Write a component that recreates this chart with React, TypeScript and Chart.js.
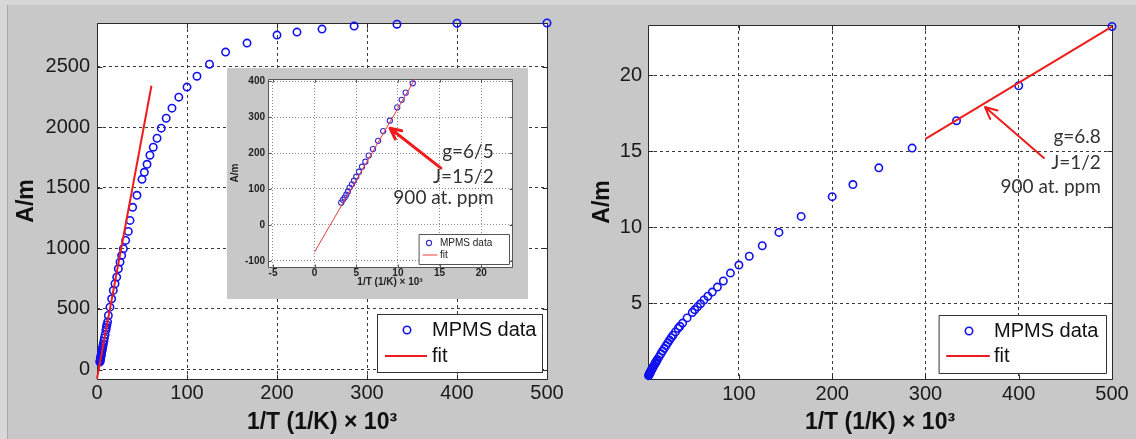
import React, { useEffect, useRef } from "react";
import { Chart, registerables } from "chart.js";

Chart.register(...registerables);

// Inverse temperature 1/T (1/K) x 10^3 for every measurement, 2 K ... 300 K
const invT = [
  500, 400, 333.3, 285.7, 250, 222.2, 200, 166.7, 142.9, 125,
  111.1, 100, 90.9, 83.3, 76.9, 71.4, 66.7, 62.5, 58.8, 55.6,
  52.6, 50, 44.4, 39.6, 36.7, 34.8, 31.9, 29.3, 27.4, 25.6,
  23.7, 21.9, 20, 18.1, 16.3, 14.4, 12.6, 11.78, 10.93, 10.45,
  9.92, 9.03, 8.23, 7.62, 7.01, 6.49, 6.09, 5.69, 5.33, 5.0,
  4.72, 4.48, 4.2, 4.0, 3.8, 3.6, 3.39, 3.19,
];

// Magnetisation, left panel (A/m)
const magLeft = [
  2860, 2858, 2850, 2835, 2810, 2785, 2760, 2694, 2620, 2520,
  2421, 2331, 2248, 2157, 2074, 1992, 1909, 1835, 1769, 1694,
  1628, 1570, 1438, 1339, 1231, 1140, 1066, 997, 942, 887,
  832, 763, 708, 653, 584, 515, 446, 394, 368, 348,
  327, 290, 261, 234, 211, 193, 176, 162, 148, 134,
  123, 113, 104, 93, 84, 76, 70, 62,
];

// Magnetisation, right panel (A/m)
const magRight = [
  23.2, 19.3, 17.0, 15.2, 13.9, 12.8, 12.0, 10.7, 9.65, 8.77,
  8.08, 7.5, 6.97, 6.45, 6.05, 5.72, 5.45, 5.2, 4.95, 4.75,
  4.56, 4.38, 4.02, 3.68, 3.47, 3.33, 3.1, 2.88, 2.72, 2.56,
  2.38, 2.2, 2.02, 1.84, 1.66, 1.46, 1.28, 1.19, 1.1, 1.05,
  1.0, 0.9, 0.82, 0.76, 0.69, 0.63, 0.58, 0.53, 0.49, 0.45,
  0.42, 0.39, 0.36, 0.33, 0.3, 0.27, 0.25, 0.22,
];

// Linear fits (end points)
const fitLeftX = [0, 60.5];
const fitLeftY = [-75, 2342];
const fitRightX = [300, 500];
const fitRightY = [15.8, 23.2];

// Inset shows the high-temperature part only
const insetLimit = 12.5;

// Tick values
const leftXTicks = [0, 100, 200, 300, 400, 500];
const leftYTicks = [0, 500, 1000, 1500, 2000, 2500];
const insetXTicks = [-5, 0, 5, 10, 15, 20];
const insetYTicks = [-100, 0, 100, 200, 300, 400];
const rightXTicks = [100, 200, 300, 400, 500];
const rightYTicks = [5, 10, 15, 20];

// Text
const legendLabels = ["MPMS data", "fit"];
const xTitle = "1/T (1/K) \u00d7 10\u00b3";
const yTitle = "A/m";
const insetNote = ["g=6/5", "J=15/2", "900 at. ppm"];
const rightNote = ["g=6.8", "J=1/2", "900 at. ppm"];

const BLUE = "#1212ee";
const RED = "#ee1c1c";
const FIG_BG = "#c8c8c8";
const SANS = "'Liberation Sans', Arial, Helvetica, sans-serif";
const NOTE_FONT = "19px Lato, 'Open Sans', sans-serif";

type Pt = { x: number; y: number };
const zip = (xs: number[], ys: number[]): Pt[] => xs.map((x, i) => ({ x, y: ys[i] }));

const ticksOf = (values: number[]) => (scale: any) => {
  scale.ticks = values.map((value) => ({ value }));
};

const fixedSize = (prop: "width" | "height", size: number) => (scale: any) => {
  scale[prop] = size;
  scale.paddingLeft = 0;
  scale.paddingRight = 0;
  scale.paddingTop = 0;
  scale.paddingBottom = 0;
};

function decorPlugin(spec: any) {
  return {
    id: "decor",
    beforeDraw(chart: any) {
      const { ctx, chartArea: a } = chart;
      ctx.save();
      if (spec.figBg) {
        ctx.fillStyle = spec.figBg;
        ctx.fillRect(0, 0, chart.width, chart.height);
      }
      ctx.fillStyle = "#ffffff";
      ctx.fillRect(a.left, a.top, a.right - a.left, a.bottom - a.top);
      ctx.restore();
    },
    beforeDatasetsDraw(chart: any) {
      const { ctx, chartArea: a, scales } = chart;
      const L = Math.round(a.left) + 0.5;
      const R = Math.round(a.right) + 0.5;
      const T = Math.round(a.top) + 0.5;
      const B = Math.round(a.bottom) + 0.5;
      const tl = spec.tickLen;
      ctx.save();
      ctx.setLineDash([]);
      ctx.strokeStyle = spec.boxColor;
      ctx.lineWidth = 1;
      ctx.beginPath();
      ctx.rect(L, T, R - L, B - T);
      for (const t of scales.x.ticks) {
        const p = Math.round(scales.x.getPixelForValue(t.value)) + 0.5;
        ctx.moveTo(p, B);
        ctx.lineTo(p, B - tl);
        ctx.moveTo(p, T);
        ctx.lineTo(p, T + tl);
      }
      for (const t of scales.y.ticks) {
        const p = Math.round(scales.y.getPixelForValue(t.value)) + 0.5;
        ctx.moveTo(L, p);
        ctx.lineTo(L + tl, p);
        ctx.moveTo(R, p);
        ctx.lineTo(R - tl, p);
      }
      ctx.stroke();
      ctx.restore();
    },
    afterDatasetsDraw(chart: any) {
      const { ctx, scales } = chart;
      ctx.save();
      ctx.setLineDash([]);

      const n = spec.note;
      if (n) {
        const sx = scales.x;
        const sy = scales.y;
        const tip = [sx.getPixelForValue(n.tip[0]), sy.getPixelForValue(n.tip[1])];
        const tail = [sx.getPixelForValue(n.tail[0]), sy.getPixelForValue(n.tail[1])];
        ctx.strokeStyle = n.arrowColor;
        ctx.lineWidth = n.arrowW;
        ctx.lineCap = "round";
        ctx.lineJoin = "round";
        ctx.beginPath();
        ctx.moveTo(tail[0], tail[1]);
        ctx.lineTo(tip[0], tip[1]);
        const ang = Math.atan2(tip[1] - tail[1], tip[0] - tail[0]);
        for (const s of [-1, 1]) {
          const a2 = ang + Math.PI + s * 0.45;
          ctx.moveTo(tip[0], tip[1]);
          ctx.lineTo(tip[0] + n.head * Math.cos(a2), tip[1] + n.head * Math.sin(a2));
        }
        ctx.stroke();
        ctx.font = n.font;
        ctx.fillStyle = n.color;
        ctx.textAlign = "right";
        ctx.textBaseline = "middle";
        n.lines.forEach((s: string, i: number) =>
          ctx.fillText(s, sx.getPixelForValue(n.textX), sy.getPixelForValue(n.textY[i]))
        );
      }

      const lg = spec.legend;
      if (lg) {
        const [x0, y0, x1, y1] = lg.box;
        ctx.fillStyle = "#ffffff";
        ctx.fillRect(x0, y0, x1 - x0, y1 - y0);
        ctx.strokeStyle = lg.border;
        ctx.lineWidth = 1;
        ctx.strokeRect(x0 + 0.5, y0 + 0.5, x1 - x0, y1 - y0);
        ctx.beginPath();
        ctx.arc(lg.markerX, lg.rows[0], spec.marker.r, 0, Math.PI * 2);
        ctx.strokeStyle = spec.marker.color;
        ctx.lineWidth = spec.marker.w;
        ctx.stroke();
        ctx.beginPath();
        ctx.moveTo(lg.lineX[0], lg.rows[1]);
        ctx.lineTo(lg.lineX[1], lg.rows[1]);
        ctx.strokeStyle = spec.fitStyle.color;
        ctx.lineWidth = spec.fitStyle.w;
        ctx.stroke();
        ctx.font = lg.font;
        ctx.fillStyle = lg.color;
        ctx.textAlign = "left";
        ctx.textBaseline = "middle";
        legendLabels.forEach((s, i) => ctx.fillText(s, lg.textX, lg.rows[i]));
      }
      ctx.restore();
    },
  };
}

function makeConfig(spec: any): any {
  return {
    type: "scatter",
    data: {
      datasets: [
        {
          label: legendLabels[1],
          data: spec.fit,
          showLine: true,
          pointRadius: 0,
          borderColor: spec.fitStyle.color,
          borderWidth: spec.fitStyle.w,
          order: 0,
          clip: spec.fitClip,
        },
        {
          label: legendLabels[0],
          data: spec.points,
          pointRadius: spec.marker.r,
          pointBorderWidth: spec.marker.w,
          borderColor: spec.marker.color,
          pointBorderColor: spec.marker.color,
          backgroundColor: "rgba(0,0,0,0)",
          pointBackgroundColor: "rgba(0,0,0,0)",
          order: 1,
          clip: false,
        },
      ],
    },
    options: {
      responsive: false,
      animation: false,
      events: [],
      layout: {
        autoPadding: false,
        padding: { left: 0, top: spec.padTop, right: spec.padRight, bottom: 0 },
      },
      plugins: { legend: { display: false }, tooltip: { enabled: false } },
      scales: {
        x: {
          type: "linear",
          position: "bottom",
          min: spec.xMin,
          max: spec.xMax,
          afterBuildTicks: ticksOf(spec.xTicks),
          afterFit: fixedSize("height", spec.xAxisH),
          grid: { color: spec.gridColor, lineWidth: 1, drawTicks: false },
          border: { display: false, dash: spec.gridDash },
          ticks: {
            autoSkip: false,
            maxRotation: 0,
            padding: spec.tickPadX,
            color: spec.tickColor,
            font: spec.tickFont,
            callback: (v: number) => String(v),
          },
          title: {
            display: true,
            text: xTitle,
            color: spec.titleColor,
            font: spec.titleFont,
            padding: { top: 0, bottom: spec.xTitlePad },
          },
        },
        y: {
          type: "linear",
          position: "left",
          min: spec.yMin,
          max: spec.yMax,
          afterBuildTicks: ticksOf(spec.yTicks),
          afterFit: fixedSize("width", spec.yAxisW),
          grid: { color: spec.gridColor, lineWidth: 1, drawTicks: false },
          border: { display: false, dash: spec.gridDash },
          ticks: {
            autoSkip: false,
            padding: spec.tickPadY,
            color: spec.tickColor,
            font: spec.tickFont,
            callback: (v: number) => String(v),
          },
          title: {
            display: true,
            text: yTitle,
            color: spec.titleColor,
            font: spec.titleFont,
            padding: { top: spec.yTitlePad, bottom: 0 },
          },
        },
      },
    },
    plugins: [decorPlugin(spec)],
  };
}

const bigPanel = {
  tickFont: { family: SANS, size: 20, weight: "normal" },
  tickColor: "#1a1a1a",
  titleFont: { family: SANS, size: 23, weight: "bold" },
  titleColor: "#111111",
  tickPadX: 2,
  tickPadY: 7,
  xTitlePad: 3,
  gridColor: "#3a3a3a",
  gridDash: [3, 3],
  boxColor: "#2a2a2a",
  tickLen: 5,
  xAxisH: 60,
  marker: { r: 3.7, w: 1.6, color: BLUE },
  fitStyle: { color: RED, w: 2 },
  fitClip: false,
};

const leftSpec = {
  ...bigPanel,
  xMin: 0,
  xMax: 500,
  yMin: -78,
  yMax: 2860,
  xTicks: leftXTicks,
  yTicks: leftYTicks,
  padTop: 23,
  padRight: 33,
  yAxisW: 97,
  yTitlePad: 13,
  points: zip(invT, magLeft),
  fit: zip(fitLeftX, fitLeftY),
  legend: {
    box: [377, 314, 542, 372],
    markerX: 407,
    rows: [330, 356],
    lineX: [385, 427],
    textX: 432,
    font: `20px ${SANS}`,
    color: "#111111",
    border: "#333333",
  },
};

const rightSpec = {
  ...bigPanel,
  xMin: 2.5,
  xMax: 500,
  yMin: 0,
  yMax: 23.3,
  xTicks: rightXTicks,
  yTicks: rightYTicks,
  tickPadX: 3,
  tickPadY: 6,
  padTop: 25,
  padRight: 24,
  yAxisW: 88,
  yTitlePad: 29,
  points: zip(invT, magRight),
  fit: zip(fitRightX, fitRightY),
  legend: {
    box: [379, 315, 546, 373],
    markerX: 409,
    rows: [331, 356],
    lineX: [387, 429],
    textX: 434,
    font: `20px ${SANS}`,
    color: "#111111",
    border: "#333333",
  },
  note: {
    tip: [363.8, 17.9],
    tail: [427, 14.55],
    textX: 488,
    textY: [15.93, 14.22, 12.64],
    lines: rightNote,
    font: NOTE_FONT,
    color: "#333333",
    arrowColor: RED,
    arrowW: 2,
    head: 13,
  },
};

const insetIdx = invT.map((x, i) => i).filter((i) => invT[i] < insetLimit);

const insetSpec = {
  figBg: FIG_BG,
  xMin: -5.6,
  xMax: 23.7,
  yMin: -117,
  yMax: 406,
  xTicks: insetXTicks,
  yTicks: insetYTicks,
  tickFont: { family: SANS, size: 10, weight: "bold" },
  tickColor: "#222222",
  titleFont: { family: SANS, size: 10, weight: "bold" },
  titleColor: "#222222",
  tickPadX: 0,
  tickPadY: 3,
  xTitlePad: 11,
  yTitlePad: 2,
  gridColor: "#8a8a8a",
  gridDash: [1, 2],
  boxColor: "#555555",
  tickLen: 3,
  padTop: 11,
  padRight: 16,
  yAxisW: 41,
  xAxisH: 32,
  marker: { r: 2.6, w: 1.1, color: "#3a2ed0" },
  fitStyle: { color: "#e83a3a", w: 1 },
  fitClip: 0,
  points: insetIdx.map((i) => ({ x: invT[i], y: magLeft[i] })),
  fit: zip(fitLeftX, fitLeftY),
  legend: {
    box: [192, 166, 282, 196],
    markerX: 202,
    rows: [175, 187],
    lineX: [196, 210],
    textX: 213,
    font: `10px ${SANS}`,
    color: "#222222",
    border: "#555555",
  },
  note: {
    tip: [9.05, 269],
    tail: [15.17, 158],
    textX: 21.5,
    textY: [203, 133, 75],
    lines: insetNote,
    font: NOTE_FONT,
    color: "#333333",
    arrowColor: RED,
    arrowW: 3,
    head: 12,
  },
};

export default function App() {
  const leftRef = useRef<HTMLCanvasElement>(null);
  const rightRef = useRef<HTMLCanvasElement>(null);
  const insetRef = useRef<HTMLCanvasElement>(null);

  useEffect(() => {
    const charts = [
      new Chart(leftRef.current as HTMLCanvasElement, makeConfig(leftSpec)),
      new Chart(rightRef.current as HTMLCanvasElement, makeConfig(rightSpec)),
      new Chart(insetRef.current as HTMLCanvasElement, makeConfig(insetSpec)),
    ];
    return () => charts.forEach((c) => c.destroy());
  }, []);

  return (
    <div
      style={{
        position: "absolute",
        left: 0,
        top: 0,
        width: 1136,
        height: 439,
        background: FIG_BG,
        overflow: "hidden",
      }}
    >
      <div style={{ position: "absolute", left: 0, top: 0, width: 1136, height: 5, background: "#d8d8d8" }} />
      <div style={{ position: "absolute", left: 0, top: 0, width: 7, height: 439, background: "#d8d8d8" }} />
      <div style={{ position: "absolute", left: 7, top: 5, width: 1, height: 434, background: "#a8a8a8" }} />
      <canvas ref={leftRef} width={580} height={439} style={{ position: "absolute", left: 0, top: 0 }} />
      <canvas ref={rightRef} width={576} height={439} style={{ position: "absolute", left: 560, top: 0 }} />
      <canvas ref={insetRef} width={301} height={231} style={{ position: "absolute", left: 227, top: 68 }} />
    </div>
  );
}
